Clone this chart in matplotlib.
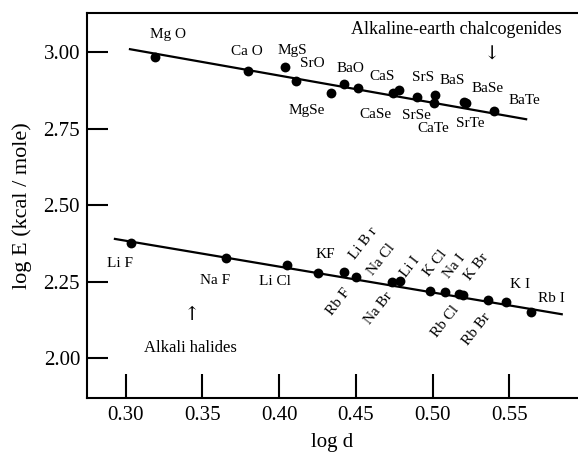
import matplotlib
matplotlib.use("Agg")
import matplotlib.pyplot as plt
import numpy as np

plt.rcParams['font.family'] = ['Liberation Serif', 'DejaVu Serif']

# ---- data ----
chalc_names = ["MgO", "CaO", "MgS", "SrO", "MgSe", "BaO", "CaS", "CaSe", "SrS",
               "SrSe", "BaS", "CaTe", "BaSe", "SrTe", "BaTe"]
chalc_logd = [0.319, 0.3795, 0.4039, 0.4108, 0.4338, 0.4425, 0.4516, 0.474, 0.4784,
              0.4899, 0.5016, 0.501, 0.5205, 0.5215, 0.540]
chalc_logE = [2.985, 2.940, 2.950, 2.907, 2.867, 2.896, 2.884, 2.868, 2.877,
              2.855, 2.861, 2.833, 2.836, 2.834, 2.809]

halide_names = ["LiF", "NaF", "LiCl", "KF", "LiBr", "RbF", "NaBr", "LiI", "KCl",
                "NaI", "RbCl", "KBr", "RbBr", "KI", "RbI"]
halide_logd = [0.3035, 0.3654, 0.405, 0.4256, 0.4423, 0.4499, 0.4734, 0.4788, 0.4984,
               0.5081, 0.517, 0.520, 0.536, 0.5479, 0.5642]
halide_logE = [2.378, 2.329, 2.305, 2.278, 2.2835, 2.265, 2.248, 2.253, 2.2215,
               2.218, 2.209, 2.206, 2.189, 2.184, 2.150]

chalc_fit_x = [0.3028, 0.5610]
chalc_fit_y = [3.0098, 2.781]
halide_fit_x = [0.293, 0.5842]
halide_fit_y = [2.390, 2.144]

x_ticks = [0.30, 0.35, 0.40, 0.45, 0.50, 0.55]
y_ticks = [2.00, 2.25, 2.50, 2.75, 3.00]

# ---- label layout (text, x, y, rotation) ----
chalc_labels = [
    ("Mg O", 0.3276, 3.0565), ("Ca O", 0.3789, 3.002), ("MgS", 0.4088, 3.005),
    ("SrO", 0.4219, 2.964), ("MgSe", 0.4182, 2.811), ("BaO", 0.4462, 2.948),
    ("CaS", 0.4672, 2.920), ("CaSe", 0.4631, 2.798), ("SrS", 0.4936, 2.918),
    ("SrSe", 0.4892, 2.792), ("BaS", 0.5129, 2.907), ("CaTe", 0.5005, 2.752),
    ("BaSe", 0.5359, 2.882), ("SrTe", 0.5248, 2.768), ("BaTe", 0.5596, 2.842),
]
halide_labels = [
    ("Li F", 0.2963, 2.310, 0), ("Na F", 0.3582, 2.253, 0), ("Li Cl", 0.3973, 2.250, 0),
    ("KF", 0.4299, 2.340, 0), ("Li B r", 0.4549, 2.374, 52), ("Na Cl", 0.4664, 2.321, 52),
    ("Rb F", 0.4386, 2.185, 52), ("Na Br", 0.4646, 2.163, 52), ("Li I", 0.4853, 2.299, 52),
    ("K Cl", 0.5016, 2.310, 52), ("Na I", 0.5146, 2.299, 52), ("K Br", 0.5288, 2.299, 52),
    ("Rb Cl", 0.5081, 2.120, 52), ("Rb Br", 0.5288, 2.095, 52), ("K I", 0.5570, 2.240, 0),
    ("Rb I", 0.5776, 2.196, 0),
]

fig = plt.figure(figsize=(5.78, 4.57), dpi=100)
ax = fig.add_axes([87/578, 1 - 397.5/457, 1 - 87/578, (397.5 - 13)/457])

ax.plot(chalc_fit_x, chalc_fit_y, color='black', lw=1.6, zorder=2)
ax.plot(halide_fit_x, halide_fit_y, color='black', lw=1.6, zorder=2)
ax.scatter(chalc_logd, chalc_logE, s=50, color='black', zorder=3, linewidths=0)
ax.scatter(halide_logd, halide_logE, s=50, color='black', zorder=3, linewidths=0)

lab_fs = 11
for t, x, y in chalc_labels:
    ax.text(x, y, t, ha='center', va='center', fontsize=lab_fs)
for t, x, y, r in halide_labels:
    ax.text(x, y, t, ha='center', va='center', fontsize=lab_fs, rotation=r)

ax.text(0.5153, 3.073, "Alkaline-earth chalcogenides", ha='center', va='center', fontsize=13)
ax.text(0.5385, 2.991, "\u2193", ha='center', va='center', fontsize=14,
        family=['DejaVu Serif'])
ax.text(0.3424, 2.033, "Alkali halides", ha='center', va='center', fontsize=12)
ax.text(0.343, 2.1415, "\u2191", ha='center', va='center', fontsize=14,
        family=['DejaVu Serif'])

ax.set_xlim(0.2748, 0.5948)
ax.set_ylim(1.872, 3.128)
ax.set_xticks(x_ticks)
ax.set_xticklabels([f"{v:.2f}" for v in x_ticks])
ax.set_yticks(y_ticks)
ax.set_yticklabels([f"{v:.2f}" for v in y_ticks])
ax.tick_params(axis='x', direction='in', length=17, width=1.5, labelsize=15, pad=6)
ax.tick_params(axis='y', direction='in', length=15, width=1.5, labelsize=15, pad=5)
for s in ['left', 'bottom', 'top']:
    ax.spines[s].set_linewidth(1.5)
ax.spines['right'].set_visible(False)

ax.set_xlabel("log d", fontsize=15, labelpad=6)
ax.set_ylabel("log E (kcal / mole)", fontsize=16, labelpad=8)

fig.savefig("out.png", dpi=100)
